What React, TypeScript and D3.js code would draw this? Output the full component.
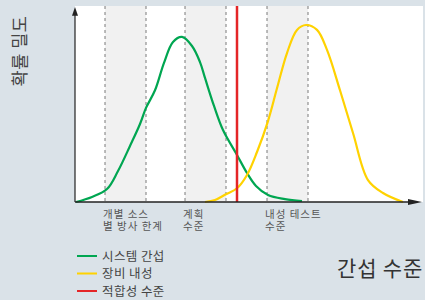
import React from 'react';
import * as d3 from 'd3';

// interference level (x) vs probability density (y)
const emissionX = [1, 17, 32, 43, 55, 65, 71, 80, 89, 98, 107, 117, 125, 130, 139, 148, 162, 172, 181, 193, 210, 227];
const emissionY = [0, 2.6, 6.6, 15.8, 28.6, 39.8, 48, 57, 71, 81.6, 84.2, 79.6, 71.4, 63.3, 49, 36.7, 24, 14.8, 8.2, 3.6, 1.5, 0.5];

const immunityX = [130, 140, 151, 162, 172, 182, 193, 202, 212, 222, 231, 242, 252, 265, 278, 293, 308, 328];
const immunityY = [0, 1, 4, 7, 13.8, 25.5, 41.3, 58, 76, 87.8, 90.3, 87.8, 77.6, 57, 35.2, 11.2, 4.6, 0];

const compatLevel = 162;
const dashLevels = [30, 71, 110, 151, 192, 233];
const bands: [number, number][] = [[30, 71], [110, 151], [192, 233]];
const markLabels = [
  { at: 30, lines: ['개별 소스', '별 방사 한계'] },
  { at: 110, lines: ['계획', '수준'] },
  { at: 192, lines: ['내성 테스트', '수준'] },
];
const legendItems = [
  { label: '시스템 간섭', color: '#00a651' },
  { label: '장비 내성', color: '#ffd200' },
  { label: '적합성 수준', color: '#e42527' },
];

const W = 425;
const H = 300;
const font = '"Noto Sans CJK KR", "Noto Sans", sans-serif';

const App: React.FC = () => {
  const x = d3.scaleLinear().domain([0, 348]).range([75, 423]);
  const y = d3.scaleLinear().domain([0, 100]).range([202, 6]);

  const line = d3.line<[number, number]>()
    .x(d => x(d[0]))
    .y(d => y(d[1]))
    .curve(d3.curveCatmullRom.alpha(0.5));

  const green = line(emissionX.map((v, i) => [v, emissionY[i]]))!;
  const yellow = line(immunityX.map((v, i) => [v, immunityY[i]]))!;

  return (
    <div style={{ position: 'fixed', left: 0, top: 0 }}>
      <svg width={W} height={H} style={{ display: 'block', fontFamily: font }}>
        <rect width={W} height={H} fill="#dae2e8" />
        <rect x={x(0)} y={y(100)} width={x(348) - x(0)} height={y(0) - y(100)} fill="#ffffff" />
        {bands.map(([a, b], i) => (
          <rect key={i} x={x(a)} y={y(100)} width={x(b) - x(a)} height={y(0) - y(100)} fill="#f1f1f1" />
        ))}
        {dashLevels.map((d, i) => (
          <line key={i} x1={x(d)} x2={x(d)} y1={y(100)} y2={y(0)}
            stroke="#7a7a7a" strokeWidth={1} strokeDasharray="3,3" />
        ))}
        <path d={green} fill="none" stroke={legendItems[0].color} strokeWidth={2.2} />
        <path d={yellow} fill="none" stroke={legendItems[1].color} strokeWidth={2.2} />
        <line x1={x(compatLevel)} x2={x(compatLevel)} y1={y(100)} y2={y(0)}
          stroke={legendItems[2].color} strokeWidth={2.5} />

        {/* axes */}
        <line x1={x(0)} x2={x(0)} y1={y(0)} y2={y(96)} stroke="#222" strokeWidth={1.2} />
        <path d={`M${x(0) - 3},${y(95)} L${x(0)},${y(100) + 1} L${x(0) + 3},${y(95)} Z`} fill="#222" />
        <line x1={x(0)} x2={x(340)} y1={y(0)} y2={y(0)} stroke="#222" strokeWidth={1.5} />
        <path d={`M${x(333)},${y(0) - 3} L${x(347)},${y(0)} L${x(333)},${y(0) + 3} Z`} fill="#222" />

        {markLabels.map((m, i) => (
          <g key={i}>
            {m.lines.map((l, j) => (
              <text key={j} x={x(m.at) - 2} y={218 + j * 11.5} fontSize={10.5}
                letterSpacing={1} fill="#555">{l}</text>
            ))}
          </g>
        ))}

        <text transform="translate(26,51) rotate(-90)" textAnchor="middle" fontSize={17.5}
          letterSpacing={0.5} fill="#444">확률 밀도</text>
        <text x={423} y={276} textAnchor="end" fontSize={21} letterSpacing={0.8} fill="#333">간섭 수준</text>

        {legendItems.map((it, i) => (
          <g key={i} transform={`translate(77,${256 + i * 17.5})`}>
            <line x1={0} x2={20} y1={0} y2={0} stroke={it.color} strokeWidth={2} />
            <text x={25} y={4.5} fontSize={12.5} letterSpacing={0.4} fill="#444">{it.label}</text>
          </g>
        ))}
      </svg>
    </div>
  );
};

export default App;
